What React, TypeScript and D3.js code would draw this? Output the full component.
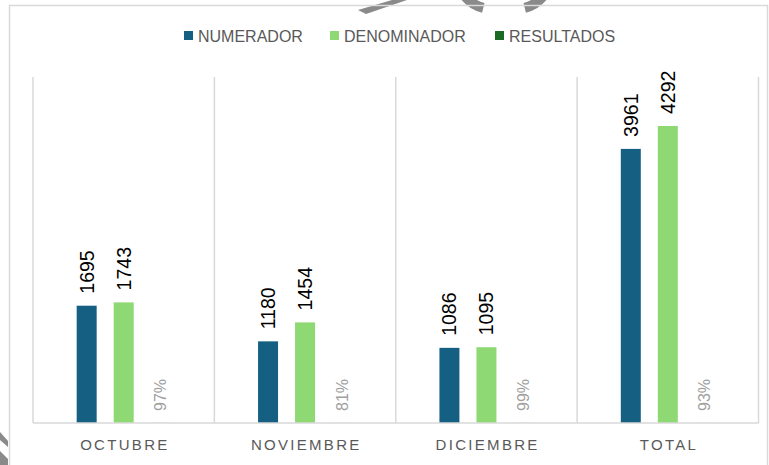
import React from 'react';
import * as d3 from 'd3';

const categories = ['OCTUBRE', 'NOVIEMBRE', 'DICIEMBRE', 'TOTAL'];
const seriesNames = ['NUMERADOR', 'DENOMINADOR', 'RESULTADOS'];
const numerador = [1695, 1180, 1086, 3961];
const denominador = [1743, 1454, 1095, 4292];
const resultados = [0.97, 0.81, 0.99, 0.93];
const resultadosLabels = ['97%', '81%', '99%', '93%'];
const colors = ['#156082', '#8ED973', '#196B24'];

const W = 769;
const H = 465;
const plot = { left: 33, right: 758.5, top: 77, bottom: 423 };
const legendX = [184, 330, 495];
const FONT = '"Liberation Sans", Arial, sans-serif';

export default function App() {
  const x0 = d3.scaleBand<string>().domain(categories).range([plot.left, plot.right]).padding(0);
  const x1 = d3
    .scaleBand<string>()
    .domain(seriesNames)
    .range([0, x0.bandwidth()])
    .paddingInner(0.46)
    .paddingOuter(1.18);
  const y = d3.scaleLinear().domain([0, 5000]).range([plot.bottom, plot.top]);

  const values = [numerador, denominador, resultados];
  const boundaries = [...categories.map((c) => x0(c) as number), plot.right];
  const arc = d3.arc();

  return (
    <svg
      width={W}
      height={H}
      style={{ position: 'absolute', left: 0, top: 0, background: '#fff' }}
      fontFamily={FONT}
    >
      <rect x={0} y={0} width={W} height={H} fill="#fff" />
      {/* background decoration fragments */}
      <g fill="#8a8a8a">
        <path d="M358,10 L366,14 L407,0 L392,0 Z" />
        <path d={arc({ innerRadius: 30, outerRadius: 40, startAngle: Math.PI * 1.08, endAngle: Math.PI * 1.32 }) as string} transform="translate(492,-26)" />
        <path d={arc({ innerRadius: 30, outerRadius: 40, startAngle: Math.PI * 0.68, endAngle: Math.PI * 0.92 }) as string} transform="translate(516,-26)" />
        <path d="M0,432 L8,441 L8,447 L0,440 Z" />
        <path d="M0,451 L8,459 L8,465 L0,465 Z" />
      </g>
      {/* chart area border */}
      <rect x={9.5} y={5.5} width={758} height={470} fill="none" stroke="#d9d9d9" strokeWidth={1.5} />

      {/* legend */}
      {seriesNames.map((s, i) => (
        <g key={s}>
          <rect x={legendX[i]} y={31} width={9} height={9} fill={colors[i]} />
          <text x={legendX[i] + 14} y={36} dominantBaseline="central" fontSize={16} fill="#595959">
            {s}
          </text>
        </g>
      ))}

      {/* vertical category dividers */}
      {boundaries.map((bx, i) => (
        <line key={i} x1={bx} x2={bx} y1={plot.top} y2={plot.bottom} stroke="#d9d9d9" strokeWidth={1.5} />
      ))}

      {/* bars */}
      {categories.map((c, ci) => (
        <g key={c} transform={`translate(${x0(c)},0)`}>
          {seriesNames.map((s, si) => {
            const v = values[si][ci];
            const bx = x1(s) as number;
            return (
              <rect key={s} x={bx} y={y(v)} width={x1.bandwidth()} height={plot.bottom - y(v)} fill={colors[si]} />
            );
          })}
          {[numerador, denominador].map((arr, si) => {
            const cx = (x1(seriesNames[si]) as number) + x1.bandwidth() / 2;
            const ty = y(arr[ci]) - 12;
            return (
              <text
                key={si}
                transform={`translate(${cx},${ty}) rotate(-90)`}
                dominantBaseline="central"
                fontSize={19.5}
                fill="#000"
              >
                {arr[ci]}
              </text>
            );
          })}
          <text
            transform={`translate(${(x1('RESULTADOS') as number) + x1.bandwidth() / 2},${y(resultados[ci]) - 12}) rotate(-90)`}
            dominantBaseline="central"
            fontSize={16}
            fill="#a0a0a0"
          >
            {resultadosLabels[ci]}
          </text>
          <text
            x={x0.bandwidth() / 2 + 1.2}
            y={444}
            textAnchor="middle"
            dominantBaseline="central"
            fontSize={15}
            letterSpacing={2.3}
            fill="#595959"
          >
            {c}
          </text>
        </g>
      ))}

      {/* baseline */}
      <line x1={plot.left} x2={plot.right} y1={plot.bottom} y2={plot.bottom} stroke="#d9d9d9" strokeWidth={1.5} />
    </svg>
  );
}
